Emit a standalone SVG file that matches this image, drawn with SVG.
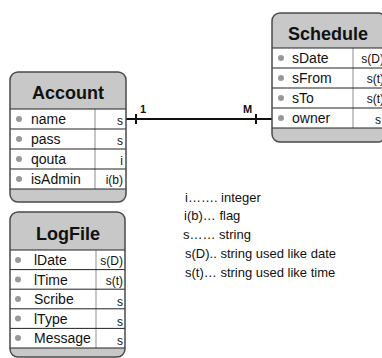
<svg xmlns="http://www.w3.org/2000/svg" width="382" height="358" viewBox="0 0 382 358">
<style>
.box{fill:#c8c8c8;stroke:none}
.body{fill:#ffffff}
.outline{fill:none;stroke:#4a4a4a;stroke-width:1.5}
.row{stroke:#222;stroke-width:1}
.col{stroke:#a0a0a0;stroke-width:1.2}
.hdr{font-family:"Liberation Sans",Arial,sans-serif;font-weight:bold;font-size:18px;fill:#111;text-anchor:middle}
.fld{font-family:"Liberation Sans",Arial,sans-serif;font-size:14px;fill:#111}
.val{font-family:"Liberation Sans",Arial,sans-serif;font-size:12px;fill:#111;text-anchor:end}
.dot{fill:#999}
.leg{font-family:"Liberation Sans",Arial,sans-serif;font-size:13px;fill:#111}
.card{font-family:"Liberation Sans",Arial,sans-serif;font-weight:bold;font-size:11px;fill:#111}
.conn{stroke:#111;stroke-width:2;fill:none}
</style>
<g id="connectors">
<line class="conn" x1="126" y1="119" x2="272" y2="119"/>
<line class="conn" x1="136" y1="114" x2="136" y2="124"/>
<line class="conn" x1="256" y1="114" x2="256" y2="124"/>
<text class="card" x="140" y="113">1</text>
<text class="card" x="243" y="113">M</text>
</g>
<g id="Account">
<rect class="box" x="10" y="72" width="116" height="130" rx="8"/>
<rect class="body" x="10" y="109" width="116" height="80"/>
<line class="col" x1="95" y1="109" x2="95" y2="189"/>
<line class="row" x1="10" y1="109" x2="126" y2="109"/>
<line class="row" x1="10" y1="129" x2="126" y2="129"/>
<line class="row" x1="10" y1="149" x2="126" y2="149"/>
<line class="row" x1="10" y1="169" x2="126" y2="169"/>
<line class="row" x1="10" y1="189" x2="126" y2="189"/>
<rect class="outline" x="10" y="72" width="116" height="130" rx="8"/>
<text class="hdr" x="68" y="99">Account</text>
<circle class="dot" cx="19" cy="119" r="3"/><text class="fld" x="31" y="124">name</text><text class="val" x="123" y="125">s</text>
<circle class="dot" cx="19" cy="139" r="3"/><text class="fld" x="31" y="144">pass</text><text class="val" x="123" y="145">s</text>
<circle class="dot" cx="19" cy="159" r="3"/><text class="fld" x="31" y="164">qouta</text><text class="val" x="123" y="165">i</text>
<circle class="dot" cx="19" cy="179" r="3"/><text class="fld" x="31" y="184">isAdmin</text><text class="val" x="123" y="184">i(b)</text>
</g>
<g id="Schedule">
<rect class="box" x="272" y="13" width="114" height="129" rx="8"/>
<rect class="body" x="272" y="48" width="114" height="80"/>
<line class="col" x1="353" y1="48" x2="353" y2="128"/>
<line class="row" x1="272" y1="48" x2="386" y2="48"/>
<line class="row" x1="272" y1="68" x2="386" y2="68"/>
<line class="row" x1="272" y1="88" x2="386" y2="88"/>
<line class="row" x1="272" y1="108" x2="386" y2="108"/>
<line class="row" x1="272" y1="128" x2="386" y2="128"/>
<rect class="outline" x="272" y="13" width="114" height="129" rx="8"/>
<text class="hdr" x="328" y="40">Schedule</text>
<circle class="dot" cx="281" cy="58" r="3"/><text class="fld" x="292" y="63">sDate</text><text class="val" x="384" y="63">s(D)</text>
<circle class="dot" cx="281" cy="78" r="3"/><text class="fld" x="292" y="83">sFrom</text><text class="val" x="384" y="83">s(t)</text>
<circle class="dot" cx="281" cy="98" r="3"/><text class="fld" x="292" y="103">sTo</text><text class="val" x="384" y="103">s(t)</text>
<circle class="dot" cx="281" cy="118" r="3"/><text class="fld" x="292" y="123">owner</text><text class="val" x="381" y="124">s</text>
</g>
<g id="LogFile">
<rect class="box" x="10" y="212" width="115" height="145" rx="8"/>
<rect class="body" x="10" y="250" width="115" height="98"/>
<line class="col" x1="96" y1="250" x2="96" y2="348"/>
<line class="row" x1="10" y1="250" x2="125" y2="250"/>
<line class="row" x1="10" y1="269.6" x2="125" y2="269.6"/>
<line class="row" x1="10" y1="289.2" x2="125" y2="289.2"/>
<line class="row" x1="10" y1="308.8" x2="125" y2="308.8"/>
<line class="row" x1="10" y1="328.4" x2="125" y2="328.4"/>
<line class="row" x1="10" y1="348" x2="125" y2="348"/>
<rect class="outline" x="10" y="212" width="115" height="145" rx="8"/>
<text class="hdr" x="68" y="240">LogFile</text>
<circle class="dot" cx="18" cy="260" r="3"/><text class="fld" x="34" y="265">lDate</text><text class="val" x="123" y="265">s(D)</text>
<circle class="dot" cx="18" cy="279.5" r="3"/><text class="fld" x="34" y="284.5">lTime</text><text class="val" x="123" y="284.5">s(t)</text>
<circle class="dot" cx="18" cy="299" r="3"/><text class="fld" x="34" y="304">Scribe</text><text class="val" x="123" y="306">s</text>
<circle class="dot" cx="18" cy="318.5" r="3"/><text class="fld" x="34" y="323.5">lType</text><text class="val" x="123" y="326">s</text>
<circle class="dot" cx="18" cy="338" r="3"/><text class="fld" x="34" y="343">Message</text><text class="val" x="123" y="345">s</text>
</g>
<g id="legend">
<text class="leg" x="185" y="202">i……. integer</text>
<text class="leg" x="184" y="220">i(b)… flag</text>
<text class="leg" x="183" y="239">s…… string</text>
<text class="leg" x="185" y="258">s(D).. string used like date</text>
<text class="leg" x="185" y="277">s(t)… string used like time</text>
</g>
</svg>
